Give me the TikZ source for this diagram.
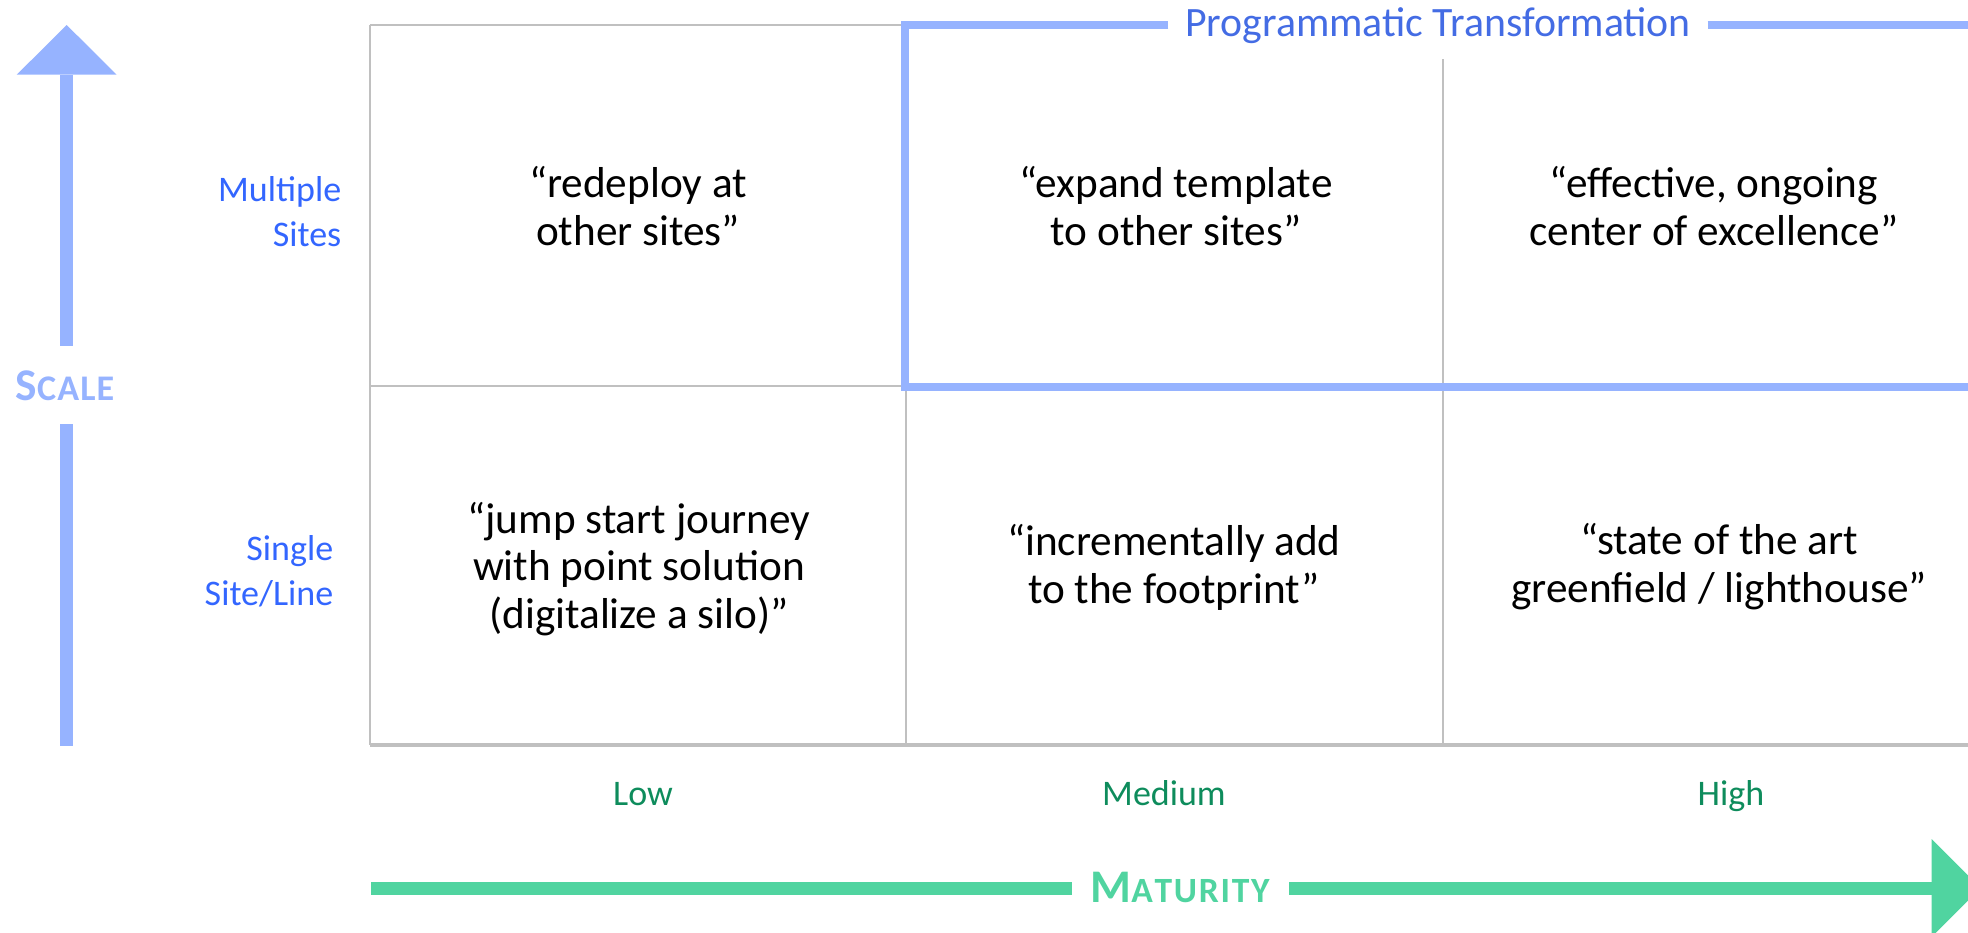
\documentclass[tikz,border=0pt]{standalone}
\usepackage{fontspec}
\setmainfont{Carlito}
\definecolor{arrowblue}{RGB}{150,179,255}
\definecolor{labelblue}{RGB}{51,102,255}
\definecolor{titleblue}{RGB}{68,108,228}
\definecolor{arrowgreen}{RGB}{80,212,160}
\definecolor{darkgreen}{RGB}{14,140,92}
\definecolor{gridgrey}{RGB}{192,192,192}
\tikzset{
  gridline/.style={draw=gridgrey, line width=0.25mm},
  progbox/.style={draw=arrowblue, line width=0.8mm, line join=miter},
  shaftblue/.style={draw=arrowblue, line width=1.3mm},
  shaftgreen/.style={draw=arrowgreen, line width=1.3mm},
  celltext/.style={align=center, inner sep=0pt, text=black, font=\fontsize{12.3pt}{13.6pt}\selectfont},
  rowlabel/.style={align=right, inner sep=0pt, text=labelblue, font=\fontsize{10.24pt}{12.8pt}\selectfont},
  collabel/.style={inner sep=0pt, anchor=base, text=darkgreen, font=\fontsize{10.24pt}{12.8pt}\selectfont},
  titletext/.style={inner sep=0pt, inner xsep=1.6mm, anchor=base, text=titleblue, font=\fontsize{11.88pt}{13.9pt}\selectfont},
  axislabel/.style={inner sep=0pt, anchor=base, font=\bfseries}
}
\begin{document}
\begin{tikzpicture}[x=0.01cm, y=-0.01cm]
\useasboundingbox (0,0) rectangle (1968,932);
\clip (0,0) rectangle (1968,932);

% grid
\coordinate (g00) at (370,25);
\coordinate (g10) at (906,25);
\coordinate (g0m) at (370,386);
\coordinate (gEm) at (1995,386);
\coordinate (g0b) at (370,745);
\coordinate (g1b) at (906,745);
\coordinate (g2t) at (1443,59);
\coordinate (g2b) at (1443,745);
\coordinate (gEb) at (1995,745);
\draw[gridline] (g00) -- (g10);
\draw[gridline] (g00) -- (g0b);
\draw[gridline] (g0m) -- (gEm);
\draw[gridline] (g10) -- (g1b);
\draw[gridline] (g2t) -- (g2b);
\draw[gridline, line width=0.35mm] (g0b) -- (gEb);

% programmatic transformation box
\node[titletext] (pt) at (1438,36) {Programmatic Transformation};
\coordinate (ptl) at (905,25);
\coordinate (pbl) at (905,387);
\coordinate (pbr) at (1995,387);
\coordinate (ptr) at (1995,25);
\draw[progbox] (pt.west |- ptl) -- (ptl) -- (pbl) -- (pbr);
\draw[progbox] (pt.east |- ptr) -- (ptr);

% cell texts
\node[celltext] (c11) at (638,206) {“redeploy at\\other sites”};
\node[celltext] (c12) at (1176,206) {“expand template\\to other sites”};
\node[celltext] (c13) at (1714,206) {“effective, ongoing\\center of excellence”};
\node[celltext] (c21) at (639,569) {“jump start journey\\with point solution\\(digitalize a silo)”};
\node[celltext] (c22) at (1174,567) {“incrementally add\\to the footprint”};
\node[celltext] (c23) at (1719,567) {“state of the art\\greenfield / lighthouse”};

% row labels
\node[rowlabel, anchor=east] (rmul) at (342,212) {Multiple\\Sites};
\node[rowlabel, anchor=east] (rsin) at (334,571) {Single\\Site/Line};

% column labels
\node[collabel] (low) at (643,805) {Low};
\node[collabel] (med) at (1164,805) {Medium};
\node[collabel] (high) at (1731,805) {High};

% scale arrow
\coordinate (st) at (66.7,25);
\coordinate (shl) at (16.7,74.7);
\coordinate (shr) at (116.7,74.7);
\coordinate (shb) at (66.7,74.7);
\coordinate (s1) at (66.7,345.7);
\coordinate (s2) at (66.7,424);
\coordinate (sb) at (66.7,745.7);
\fill[arrowblue] (shl) -- (st) -- (shr) -- cycle;
\draw[shaftblue] (shb) -- (s1);
\draw[shaftblue] (s2) -- (sb);
\node[axislabel, text=arrowblue] (scale) at (65,400) {{\fontsize{12.9pt}{14pt}\selectfont S}{\fontsize{10.26pt}{12pt}\selectfont C\kern0.3pt A\kern0.3pt L\kern0.3pt E}};

% maturity arrow
\coordinate (ml) at (371,888);
\coordinate (m1) at (1071.7,888);
\coordinate (m2) at (1289.3,888);
\coordinate (mhb) at (1931.7,888);
\coordinate (mht) at (1931.7,839);
\coordinate (mhd) at (1931.7,937);
\coordinate (mtip) at (1980.7,888);
\draw[shaftgreen] (ml) -- (m1);
\draw[shaftgreen] (m2) -- (mhb);
\fill[arrowgreen] (mht) -- (mtip) -- (mhd) -- cycle;
\node[axislabel, text=arrowgreen] (mat) at (1180,902) {{\fontsize{13.3pt}{14pt}\selectfont M}{\fontsize{10.1pt}{12pt}\selectfont A\kern0.5pt T\kern0.5pt U\kern0.5pt R\kern0.5pt I\kern0.5pt T\kern0.5pt Y}};
\end{tikzpicture}
\end{document}
